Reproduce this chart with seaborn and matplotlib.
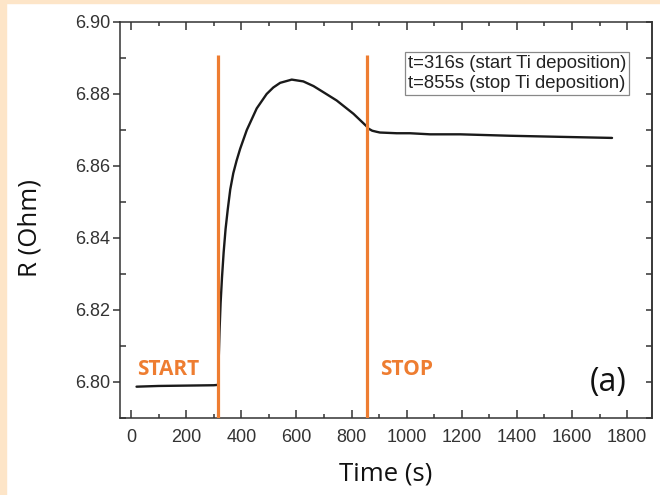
"""Resistance vs time during Ti deposition."""
import numpy as np
import pandas as pd
import matplotlib
matplotlib.use("Agg")
import matplotlib.pyplot as plt
from matplotlib.patches import Rectangle
import seaborn as sns

# values
time_s = [20, 100, 200, 300, 316, 318, 321, 325, 330, 336, 343, 351, 360, 371,
          383, 396, 420, 456, 492, 516, 541, 583, 625, 662, 700, 746, 807, 855,
          861, 875, 891, 903, 964, 1012, 1085, 1194, 1375, 1557, 1745]
resistance = [6.7987, 6.7989, 6.7990, 6.7991, 6.7992, 6.8060, 6.8140, 6.8220,
              6.8290, 6.8360, 6.8425, 6.8480, 6.8535, 6.8580, 6.8615, 6.8648,
              6.8700, 6.8760, 6.8800, 6.8818, 6.8831, 6.8840, 6.8835, 6.8822,
              6.8804, 6.8782, 6.8745, 6.8710, 6.8704, 6.8698, 6.8695, 6.8693,
              6.8691, 6.8691, 6.8688, 6.8688, 6.8684, 6.8681, 6.8678]
event_times = [316, 855]
event_labels = ["START", "STOP"]
event_text_x = [22, 903]
legend_lines = ["t=316s (start Ti deposition)", "t=855s (stop Ti deposition)"]

orange = "#ee7d31"
df = pd.DataFrame({"Time (s)": time_s, "R (Ohm)": resistance})

sns.set_style("ticks")
plt.rcParams["font.family"] = ["Liberation Sans", "DejaVu Sans"]

fig = plt.figure(figsize=(6.6, 4.95), dpi=100)
fig.patch.set_facecolor("white")
# peach frame at the left and top edges
fig.patches.append(Rectangle((0, 0), 6 / 660, 1, transform=fig.transFigure,
                             color="#fde5c8", zorder=0))
fig.patches.append(Rectangle((0, 1 - 3 / 495), 1, 3 / 495, transform=fig.transFigure,
                             color="#fde5c8", zorder=0))

ax = fig.add_axes([120 / 660, 1 - 418 / 495, 532 / 660, 396 / 495])

sns.lineplot(data=df, x="Time (s)", y="R (Ohm)", ax=ax, color="#1a1a1a",
             linewidth=1.7, zorder=3)

for t in event_times:
    ax.plot([t, t], [6.79, 6.8908], color=orange, linewidth=2.3, zorder=4,
            solid_capstyle="butt")

for lbl, tx in zip(event_labels, event_text_x):
    ax.text(tx, 6.8019, lbl, color=orange, fontsize=15, fontweight="bold",
            family=["Open Sans", "DejaVu Sans"], va="baseline", ha="left")

ax.text(1731, 6.7975, "(a)", fontsize=23, family=["Open Sans", "DejaVu Sans"],
        color="#111111", ha="center", va="baseline")

ax.text((408 - 120) / 532, (418 - 55) / 396, "\n".join(legend_lines),
        transform=ax.transAxes, fontsize=13.3, color="#222222", va="top",
        ha="left", linespacing=1.22,
        bbox=dict(boxstyle="square,pad=0.15", facecolor="white",
                  edgecolor="#888888", linewidth=0.9))

ax.set_xlim(-40, 1890)
ax.set_ylim(6.79, 6.90)
ax.set_xticks(np.arange(0, 1801, 200))
ax.set_xticks(np.arange(100, 1900, 200), minor=True)
ax.set_yticks([6.80, 6.82, 6.84, 6.86, 6.88, 6.90])
ax.set_yticks([6.79, 6.81, 6.83, 6.85, 6.87, 6.89], minor=True)
ax.set_yticklabels([f"{v:.2f}" for v in [6.80, 6.82, 6.84, 6.86, 6.88, 6.90]])

for s in ax.spines.values():
    s.set_visible(True)
    s.set_linewidth(1.1)
    s.set_color("#333333")

ax.tick_params(axis="x", which="both", direction="in", top=True, bottom=True,
               color="#333333", labelsize=13, labelcolor="#333333", pad=8)
ax.tick_params(axis="x", which="major", length=5.5, width=1.1)
ax.tick_params(axis="x", which="minor", length=3, width=1.1)
ax.tick_params(axis="y", which="major", direction="out", left=True, right=False,
               length=5, width=1.1, color="#333333", labelsize=13,
               labelcolor="#333333", pad=2)
ax.tick_params(axis="y", which="minor", direction="in", left=True, right=True,
               length=4, width=1.1, color="#333333")
# right side: inward ticks at every 0.01
ax2 = ax.secondary_yaxis("right")
ax2.set_yticks([6.80, 6.82, 6.84, 6.86, 6.88, 6.90])
ax2.tick_params(direction="in", length=4, width=1.1, color="#333333",
                labelright=False)
ax2.spines["right"].set_linewidth(1.1)
ax2.spines["right"].set_color("#333333")

ax.set_xlabel("Time (s)", fontsize=18.5, family=["Open Sans", "DejaVu Sans"],
              color="#111111")
ax.set_ylabel("R (Ohm)", fontsize=18.5, family=["Open Sans", "DejaVu Sans"],
              color="#111111")
ax.xaxis.set_label_coords(0.5, -0.111)
ax.yaxis.set_label_coords(-0.145, 0.48)

fig.savefig("out.png", dpi=100)
